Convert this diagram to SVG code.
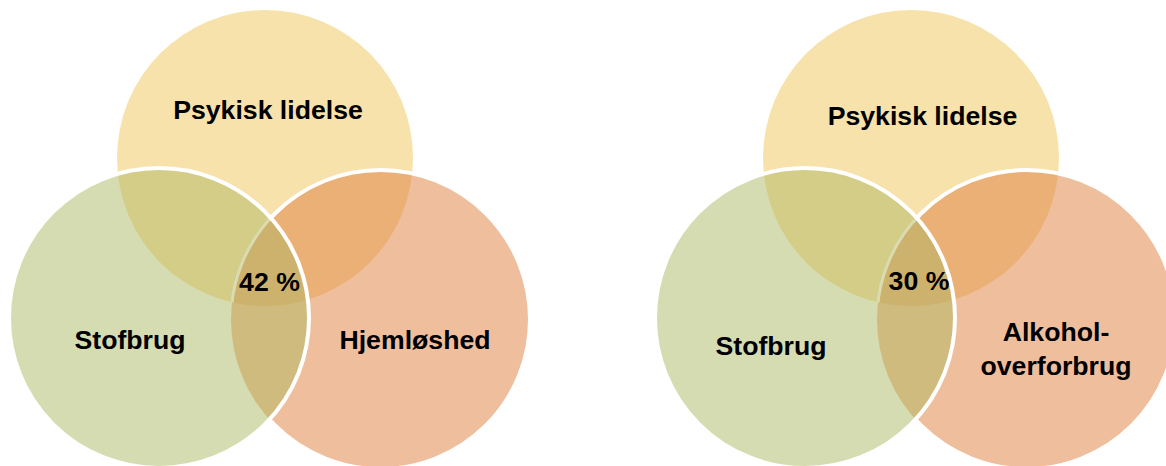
<svg xmlns="http://www.w3.org/2000/svg" width="1166" height="466" viewBox="0 0 1166 466">
<defs>
<style>
.lbl{font-family:"Liberation Sans",Arial,sans-serif;font-weight:bold;font-size:26.67px;fill:#000;text-anchor:middle}
.y{fill:#f7e2ab}
.o{fill:#efbe9d}
.g{fill:#d6dcb1}
.yo{fill:#ebb075}
.yg{fill:#d4cd88}
.go{fill:#cfbb7e}
.ygo{fill:#cdb26d}
.ws{fill:none;stroke:#fff;stroke-width:4}
.faint{fill:none;stroke:#d9dcb2;stroke-width:3}
</style>
<clipPath id="cY" clipPathUnits="userSpaceOnUse"><circle cx="265" cy="158" r="148"/></clipPath>
<clipPath id="cO" clipPathUnits="userSpaceOnUse"><circle cx="380.5" cy="319.5" r="149.5"/></clipPath>
<clipPath id="cG" clipPathUnits="userSpaceOnUse"><circle cx="159" cy="318" r="150"/></clipPath>
</defs>
<rect width="1166" height="466" fill="#fff"/>

<g id="venn-left">
  <g id="l-psykisk">
    <circle class="y" cx="265" cy="158" r="148"/>
    <text class="lbl" x="268" y="119">Psykisk lidelse</text>
  </g>
  <g id="l-hjemloshed">
    <circle class="o" cx="380.5" cy="319.5" r="149.5"/>
    <circle class="yo" cx="380.5" cy="319.5" r="149.5" clip-path="url(#cY)"/>
    <circle class="ws" cx="380.5" cy="319.5" r="149.5"/>
    <text class="lbl" x="415" y="349">Hjemløshed</text>
  </g>
  <g id="l-stofbrug">
    <circle class="g" cx="159" cy="318" r="150"/>
    <circle class="yg" cx="159" cy="318" r="150" clip-path="url(#cY)"/>
    <circle class="go" cx="159" cy="318" r="150" clip-path="url(#cO)"/>
    <g clip-path="url(#cO)"><circle class="ygo" cx="159" cy="318" r="150" clip-path="url(#cY)"/></g>
    <g clip-path="url(#cG)"><circle class="faint" cx="380.5" cy="319.5" r="149.5" clip-path="url(#cY)"/></g>
    <circle class="ws" cx="159" cy="318" r="150"/>
    <text class="lbl" x="130" y="349">Stofbrug</text>
  </g>
  <g id="l-center">
    <text class="lbl" x="269.5" y="291">42 %</text>
  </g>
</g>

<g id="venn-right" transform="translate(646,0)">
  <g id="r-psykisk">
    <circle class="y" cx="265" cy="158" r="148"/>
    <text class="lbl" x="276.5" y="125">Psykisk lidelse</text>
  </g>
  <g id="r-alkohol">
    <circle class="o" cx="380.5" cy="319.5" r="149.5"/>
    <circle class="yo" cx="380.5" cy="319.5" r="149.5" clip-path="url(#cY)"/>
    <circle class="ws" cx="380.5" cy="319.5" r="149.5"/>
    <text class="lbl" x="410" y="341">Alkohol-</text>
    <text class="lbl" x="410" y="375">overforbrug</text>
  </g>
  <g id="r-stofbrug">
    <circle class="g" cx="159" cy="318" r="150"/>
    <circle class="yg" cx="159" cy="318" r="150" clip-path="url(#cY)"/>
    <circle class="go" cx="159" cy="318" r="150" clip-path="url(#cO)"/>
    <g clip-path="url(#cO)"><circle class="ygo" cx="159" cy="318" r="150" clip-path="url(#cY)"/></g>
    <g clip-path="url(#cG)"><circle class="faint" cx="380.5" cy="319.5" r="149.5" clip-path="url(#cY)"/></g>
    <circle class="ws" cx="159" cy="318" r="150"/>
    <text class="lbl" x="125" y="355">Stofbrug</text>
  </g>
  <g id="r-center">
    <text class="lbl" x="273" y="290">30 %</text>
  </g>
</g>
<g id="connectors"/>
</svg>
